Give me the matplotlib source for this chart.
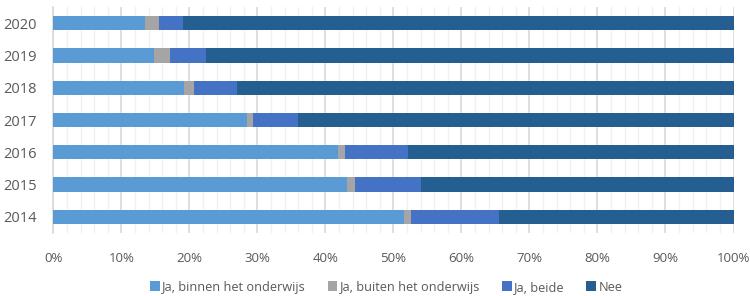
import numpy as np
import matplotlib.pyplot as plt
from matplotlib.ticker import MultipleLocator, PercentFormatter

years = ['2014', '2015', '2016', '2017', '2018', '2019', '2020']
series = ['Ja, binnen het onderwijs', 'Ja, buiten het onderwijs', 'Ja, beide', 'Nee']
binnen = [51.6, 43.2, 41.9, 28.5, 19.2, 14.8, 13.5]
buiten = [1.0, 1.2, 1.0, 0.8, 1.4, 2.3, 2.0]
beide = [12.9, 9.7, 9.2, 6.7, 6.4, 5.3, 3.5]
nee = [34.5, 45.9, 47.9, 64.0, 73.0, 77.6, 81.0]
colors = ['#5B9BD5', '#A5A5A5', '#4472C4', '#255E91']

plt.rcParams['font.family'] = ['Open Sans', 'DejaVu Sans']
text_color = '#595959'

fig = plt.figure(figsize=(7.5, 2.96), dpi=100)
ax = fig.add_axes([0.0713, 0.2128, 0.9067, 0.7635])

y = np.arange(len(years))
left = np.zeros(len(years))
for name, vals, c in zip(series, [binnen, buiten, beide, nee], colors):
    ax.barh(y, vals, left=left, height=0.44, color=c, label=name, zorder=3)
    left += np.array(vals)

ax.set_xlim(0, 100)
ax.set_ylim(-0.5, len(years) - 0.5)
ax.set_yticks(y)
ax.set_yticklabels(years)
ax.xaxis.set_major_locator(MultipleLocator(10))
ax.xaxis.set_minor_locator(MultipleLocator(2))
ax.xaxis.set_major_formatter(PercentFormatter(decimals=0))
ax.grid(axis='x', which='major', color='#D9D9D9', linewidth=1.2, zorder=0)
ax.grid(axis='x', which='minor', color='#F0F0F0', linewidth=1.0, zorder=0)
ax.tick_params(which='both', length=0, labelsize=9.5, colors=text_color)
ax.tick_params(axis='x', pad=14)
ax.tick_params(axis='y', pad=12, labelsize=10.5)
for s in ['top', 'right', 'bottom']:
    ax.spines[s].set_visible(False)
ax.spines['left'].set_color('#D9D9D9')
ax.spines['left'].set_linewidth(1.2)

fig.legend(loc='center', bbox_to_anchor=(0.515, 0.03), ncol=4, frameon=False,
           fontsize=9.2, handlelength=0.75, handleheight=0.75, handletextpad=0.2,
           columnspacing=1.7, labelcolor=text_color)

fig.savefig('out.png', dpi=100)
